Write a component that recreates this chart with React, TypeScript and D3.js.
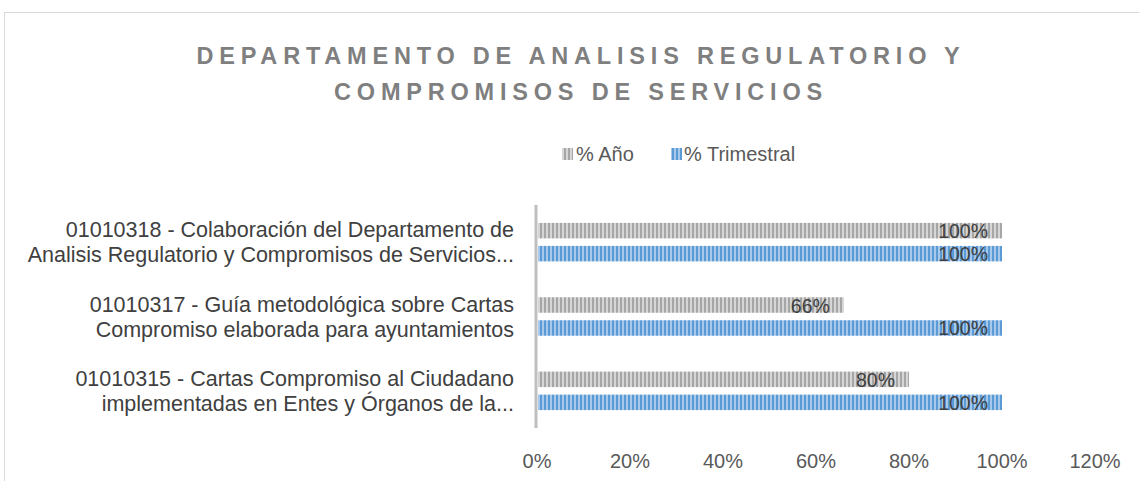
import React from "react";
import * as d3 from "d3";

const categories = ["01010318", "01010317", "01010315"];
const categoryLines = [
  ["01010318 - Colaboración del Departamento de", "Analisis Regulatorio y Compromisos de Servicios..."],
  ["01010317 - Guía metodológica sobre Cartas", "Compromiso elaborada para ayuntamientos"],
  ["01010315 - Cartas Compromiso al Ciudadano", "implementadas en Entes y Órganos de la..."],
];
const seriesNames = ["% Año", "% Trimestral"];
const anoValues = [1.0, 0.66, 0.8];
const trimestralValues = [1.0, 1.0, 1.0];
const xTicks = [0, 0.2, 0.4, 0.6, 0.8, 1.0, 1.2];
const titleLines = ["DEPARTAMENTO DE ANALISIS REGULATORIO Y", "COMPROMISOS DE SERVICIOS"];

const W = 1139;
const H = 481;
const FONT = "'Liberation Sans', Arial, sans-serif";
const FS = 20;

export default function App() {
  const x = d3.scaleLinear().domain([0, 1.2]).range([537, 1095]);
  const y = d3.scaleBand<string>().domain(categories).range([205, 428]).padding(0);
  const inner = d3
    .scaleBand<string>()
    .domain(seriesNames)
    .range([0, 38.5])
    .paddingInner(0.326)
    .paddingOuter(0);
  const off = (y.bandwidth() - 38.5) / 2;
  const series = [
    { name: seriesNames[0], values: anoValues, fill: "url(#patGray)" },
    { name: seriesNames[1], values: trimestralValues, fill: "url(#patBlue)" },
  ];
  const pct = d3.format(".0%");

  return (
    <svg
      width={W}
      height={H}
      style={{ position: "fixed", left: 0, top: 0, background: "#fff" }}
      fontFamily={FONT}
    >
      <defs>
        <pattern id="patGray" patternUnits="userSpaceOnUse" width={4} height={4}>
          <rect width={4} height={4} fill="#d6d6d6" />
          <rect width={2} height={4} fill="#a6a6a6" />
        </pattern>
        <pattern id="patBlue" patternUnits="userSpaceOnUse" width={4} height={4}>
          <rect width={4} height={4} fill="#a8c9ec" />
          <rect width={2} height={4} fill="#5b9bd5" />
        </pattern>
      </defs>
      <rect x={4.5} y={12.5} width={1300} height={600} fill="#fff" stroke="#d9d9d9" strokeWidth={1} />

      {titleLines.map((t, i) => (
        <text
          key={i}
          x={581}
          y={64 + i * 36}
          textAnchor="middle"
          fontSize={23.5}
          fontWeight="bold"
          letterSpacing={5.8}
          fill="#7f7f7f"
        >
          {t}
        </text>
      ))}

      {/* legend */}
      <g fontSize={FS} fill="#595959">
        <rect x={562} y={148} width={11} height={12} fill="url(#patGray)" />
        <text x={576} y={161}>{seriesNames[0]}</text>
        <rect x={671} y={148} width={11} height={12} fill="url(#patBlue)" />
        <text x={684} y={161}>{seriesNames[1]}</text>
      </g>

      {/* bars */}
      {series.map((s) =>
        categories.map((c, i) => {
          const by = (y(c) as number) + off + (inner(s.name) as number);
          const bh = inner.bandwidth();
          const xe = x(s.values[i]);
          return (
            <g key={s.name + c}>
              <rect x={x(0) + 1} y={by} width={xe - x(0) - 1} height={bh} fill={s.fill} />
              <text
                x={xe - 14}
                y={by + bh / 2 + 7.5}
                textAnchor="end"
                fontSize={19.5}
                fill="#404040"
              >
                {pct(s.values[i])}
              </text>
            </g>
          );
        })
      )}

      {/* axis line */}
      <line x1={536} x2={536} y1={205} y2={428} stroke="#bfbfbf" strokeWidth={3} />

      {/* category labels */}
      {categories.map((c, i) => {
        const cy = (y(c) as number) + y.bandwidth() / 2;
        return (
          <g key={c} fontSize={21.5} fill="#404040">
            {categoryLines[i].map((ln, j) => (
              <text key={j} x={514} y={cy - 5 + j * 25} textAnchor="end">
                {ln}
              </text>
            ))}
          </g>
        );
      })}

      {/* x tick labels */}
      {xTicks.map((t) => (
        <text key={t} x={x(t)} y={468} textAnchor="middle" fontSize={FS} fill="#595959">
          {pct(t)}
        </text>
      ))}
    </svg>
  );
}
